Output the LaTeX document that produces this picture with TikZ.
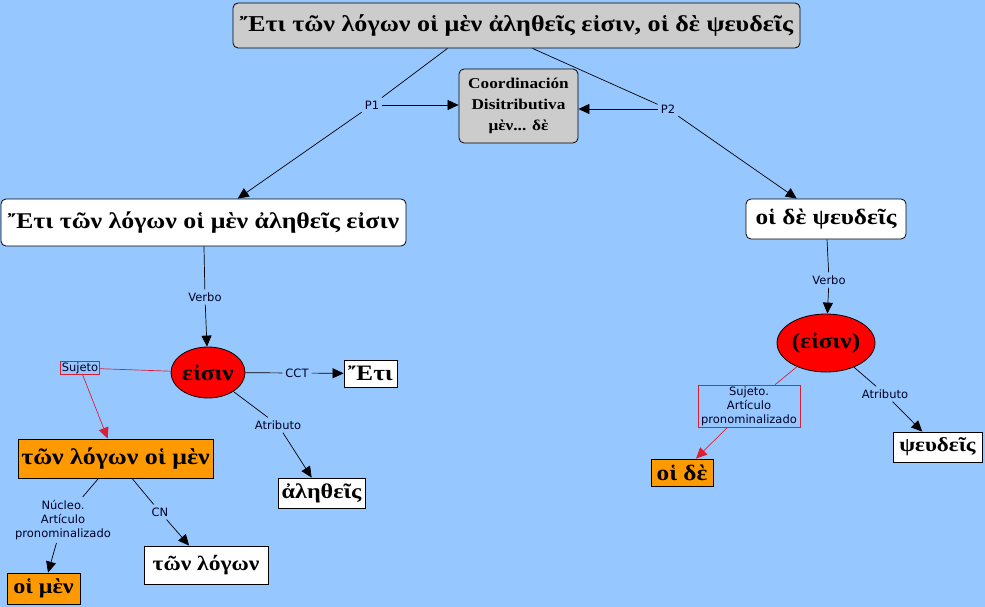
\documentclass[tikz,border=0pt]{standalone}
\usepackage{fontspec}
\newfontfamily\gr[FakeStretch=1.15]{Liberation Serif}
\newfontfamily\lab{DejaVu Sans}
\usetikzlibrary{arrows.meta,shapes.geometric}
\definecolor{bg}{RGB}{150,200,255}
\definecolor{boxgray}{RGB}{204,204,204}
\definecolor{org}{RGB}{255,153,0}
\definecolor{redl}{RGB}{220,30,50}
\begin{document}
\begin{tikzpicture}[x=1pt,y=-1pt,
  every node/.style={inner sep=0pt, align=center},
  rbox/.style={draw=black, line width=0.8pt, rounded corners=5pt},
  sbox/.style={draw=black, line width=0.8pt},
  gtext/.style={font=\gr\bfseries\fontsize{#1}{#1}\selectfont},
  lbl/.style={font=\lab\fontsize{11.5}{14}\selectfont, text=black!85!blue, inner sep=3pt},
  con/.style={line width=0.7pt, draw=black},
  arr/.style={con, -{Triangle[length=11pt,width=10pt]}},
  rcon/.style={line width=0.7pt, draw=redl},
  rarr/.style={rcon, -{Triangle[length=11pt,width=10pt]}, redl}
]
\path[use as bounding box, fill=bg] (0,0) rectangle (985,607);

% nodes
\node[rbox, fill=boxgray, minimum width=567pt, minimum height=45pt, gtext=22.7] (top) at (516.5,25.5)
  {Ἔτι τῶν λόγων οἱ μὲν ἀληθεῖς εἰσιν, οἱ δὲ ψευδεῖς};
\node[rbox, fill=boxgray, minimum width=119pt, minimum height=74pt, font=\gr\bfseries\fontsize{15}{21}\selectfont, align=center] (coord) at (518.5,106)
  {Coordinación\\Disitributiva\\μὲν... δὲ};
\node[rbox, fill=white, minimum width=405pt, minimum height=47pt, gtext=22.5] (left) at (203.5,222.5)
  {Ἔτι τῶν λόγων οἱ μὲν ἀληθεῖς εἰσιν};
\node[rbox, fill=white, minimum width=160pt, minimum height=40pt, gtext=22] (right) at (826,219)
  {οἱ δὲ ψευδεῖς};
\node[ellipse, draw=black, line width=0.8pt, fill=red, minimum width=74pt, minimum height=51pt, gtext=22] (eis) at (208,372.5)
  {εἰσιν};
\node[ellipse, draw=black, line width=0.8pt, fill=red, minimum width=98pt, minimum height=58pt, gtext=22] (eis2) at (826,343)
  {(εἰσιν)};
\node[sbox, fill=white, minimum width=53pt, minimum height=27pt, gtext=22] (eti) at (370.5,373.5) {Ἔτι};
\node[sbox, fill=white, minimum width=87pt, minimum height=30pt, gtext=21] (aleth) at (321.5,493) {ἀληθεῖς};
\node[sbox, fill=org, minimum width=195pt, minimum height=39pt, gtext=22.5] (org1) at (115.5,458.5) {τῶν λόγων οἱ μὲν};
\node[sbox, fill=white, minimum width=124pt, minimum height=38pt, gtext=20.5] (tonl) at (206,565) {τῶν λόγων};
\node[sbox, fill=org, minimum width=73pt, minimum height=31pt, gtext=21] (oimen) at (43.5,588.5) {οἱ μὲν};
\node[sbox, fill=org, minimum width=62pt, minimum height=27pt, gtext=22] (oide) at (682,472.5) {οἱ δὲ};
\node[sbox, fill=white, minimum width=89pt, minimum height=30pt, gtext=20] (pseud) at (937.5,447) {ψευδεῖς};

% labels
\node[lbl] (p1) at (372,105) {P1};
\node[lbl] (p2) at (668,109) {P2};
\node[lbl] (verbo1) at (205,297) {Verbo};
\node[lbl, draw=redl, line width=0.6pt, inner sep=1pt] (suj1) at (80,368) {Sujeto};
\node[lbl] (cct) at (297,373) {CCT};
\node[lbl] (atr1) at (278,425) {Atributo};
\node[lbl] (nuc) at (63,520) {Núcleo.\\Artículo\\pronominalizado};
\node[lbl] (cn) at (160,512) {CN};
\node[lbl] (verbo2) at (829,280) {Verbo};
\node[lbl, draw=redl, line width=0.6pt, inner sep=1pt, minimum width=102pt, minimum height=42pt] (suj2) at (749,406) {Sujeto.\\Artículo\\pronominalizado};
\node[lbl] (atr2) at (885,394) {Atributo};

% connectors
\draw[con] ([xshift=-69pt]top.south) -- (p1);
\draw[arr] (p1) -- (coord.west |- p1);
\draw[arr] (p1) -- (left);
\draw[con] ([xshift=16pt]top.south) -- (p2);
\draw[arr] (p2) -- (coord.east |- p2);
\draw[arr] (p2) -- (right);

\draw[con] (left) -- (verbo1);
\draw[arr] (verbo1) -- (eis);
\draw[rcon] (eis) -- (suj1);
\draw[rarr] (suj1) -- (org1);
\draw[con] (eis) -- (cct);
\draw[arr] (cct) -- (eti);
\draw[con] (eis) -- (atr1);
\draw[arr] (atr1) -- (aleth);
\draw[con] (org1) -- (nuc);
\draw[arr] (nuc) -- (oimen);
\draw[con] (org1) -- (cn);
\draw[arr] (cn) -- (tonl);

\draw[con] (right) -- (verbo2);
\draw[arr] (verbo2) -- (eis2);
\draw[rcon] (eis2) -- (suj2);
\draw[rarr] (suj2) -- (oide);
\draw[con] (eis2) -- (atr2);
\draw[arr] (atr2) -- (pseud);
\end{tikzpicture}
\end{document}
